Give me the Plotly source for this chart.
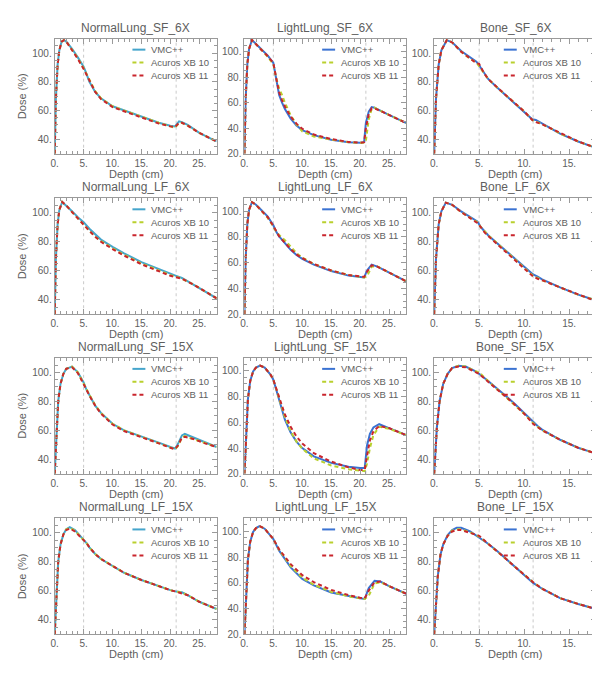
import plotly.graph_objects as go

# ---- data ----
NL_SF_6X_DEPTH = [0, 0.2, 0.5, 0.8, 1.2, 1.6, 2, 3, 4, 5, 5.5, 6, 7, 8, 10, 12, 15, 18, 20, 20.8, 21.5, 22, 23, 25, 27, 28]
NL_SF_6X_VMC = [30, 68, 92, 102, 108, 109, 108, 103, 97, 90.5, 85.5, 80, 73, 68.5, 63, 60, 55.5, 51.5, 49.5, 49, 52.5, 52, 50, 44.5, 40.5, 38.5]
NL_SF_6X_AXB10 = [30, 68, 92, 102, 108, 109, 108, 102.5, 96.5, 89.5, 85.5, 80.5, 73.5, 68.5, 63, 60, 55.5, 51.5, 49, 48, 51.5, 51.5, 49.5, 44.5, 40.5, 38.5]
NL_SF_6X_AXB11 = [30, 68, 92, 102, 108, 109, 108, 102, 96, 89, 85, 80, 73, 68, 62.5, 59.5, 55, 51, 49, 48.5, 51.5, 51.5, 49.5, 44.5, 40.5, 38.5]

LL_SF_6X_DEPTH = [0, 0.2, 0.5, 0.8, 1.3, 2, 3, 4, 5, 5.5, 6, 6.5, 7, 8, 9, 10, 12, 15, 18, 20, 20.7, 21, 21.5, 22, 22.5, 24, 26, 28]
LL_SF_6X_VMC = [20, 62, 90, 102, 109, 106, 101, 97, 91, 78, 66, 60, 55, 47.5, 42, 38.5, 34.5, 31, 29, 28.5, 29, 44, 53, 56.5, 56, 52.5, 48, 44]
LL_SF_6X_AXB10 = [20, 62, 90, 102, 109, 106, 101, 96, 90, 79, 71, 66, 60, 50, 43, 37.5, 33.5, 31, 29, 28.5, 28.5, 30, 47, 55, 56, 52.5, 48, 44]
LL_SF_6X_AXB11 = [20, 62, 90, 102, 109, 106, 101, 96.5, 91, 79, 68, 62, 57, 49, 43.5, 39.5, 35, 31.5, 29.2, 28.6, 29, 40, 51, 55.5, 55.5, 52.5, 48, 44]

BO_SF_6X_DEPTH = [0, 0.2, 0.5, 0.8, 1.4, 2, 3, 4, 4.7, 5, 5.5, 6, 7, 8, 9, 10, 10.9, 11.3, 12, 13, 14, 16, 18]
BO_SF_6X_VMC = [30, 68, 92, 102, 109, 107.5, 101.5, 97, 94, 91.5, 86.5, 82, 76, 70.5, 65, 59.5, 54, 53.5, 51, 47.5, 44, 38.5, 34]
BO_SF_6X_AXB10 = [30, 68, 92, 102, 109, 107.5, 101, 96, 93.5, 91, 86.5, 82, 76, 70.5, 65, 59.5, 53.5, 52.5, 50.5, 47.5, 44, 38.5, 34]
BO_SF_6X_AXB11 = [30, 68, 92, 102, 109, 107.5, 101, 96, 93, 92.5, 86.5, 82, 76, 70.5, 65, 59.5, 53.5, 52, 50.5, 47.5, 44, 38.5, 34]

NL_LF_6X_DEPTH = [0, 0.2, 0.5, 0.8, 1.3, 2, 3, 4, 5, 6, 7, 8, 10, 12, 15, 18, 20, 21, 22, 24, 26, 28]
NL_LF_6X_VMC = [30, 68, 92, 102, 107.5, 105, 101, 97, 93.5, 89, 85, 81.5, 76.5, 72, 66, 61, 58, 56.5, 55, 50.5, 45.5, 41]
NL_LF_6X_AXB10 = [30, 68, 92, 102, 107.5, 105, 100.5, 96, 92, 87.5, 83.5, 80.5, 75.5, 71, 65, 60, 57, 56, 54.5, 50.5, 45.5, 41]
NL_LF_6X_AXB11 = [30, 68, 92, 102, 107.5, 105, 100.5, 96, 92, 87.5, 83.5, 80, 75, 70.5, 64.5, 59.5, 56.5, 55.5, 54.5, 50.5, 45.5, 41]

LL_LF_6X_DEPTH = [0, 0.2, 0.5, 0.8, 1.3, 2, 3, 4, 5, 5.5, 6, 7, 8, 9, 10, 12, 15, 18, 20, 20.7, 21.2, 22, 23, 25, 28]
LL_LF_6X_VMC = [20, 62, 90, 101, 107, 105, 100.5, 96, 89, 84, 80.5, 75, 70, 66, 63, 58.5, 53.5, 50, 48.5, 48.5, 54, 58.5, 57, 52.5, 45.5]
LL_LF_6X_AXB10 = [20, 62, 90, 101, 107, 105, 100, 95, 88, 84, 81.5, 77.5, 72.5, 67.5, 64, 59, 54, 50.5, 49, 48.5, 49.5, 57, 57, 52.5, 45.5]
LL_LF_6X_AXB11 = [20, 62, 90, 101, 107, 105, 100, 95.5, 88.5, 84, 80.5, 75.5, 70.5, 66.5, 63.5, 59, 54, 50.5, 49, 49, 53, 58, 57, 52.5, 45.5]

BO_LF_6X_DEPTH = [0, 0.2, 0.5, 0.8, 1.3, 2, 3, 4, 4.8, 5.2, 5.6, 6, 7, 8, 9, 10, 11, 11.5, 12, 14, 16, 18]
BO_LF_6X_VMC = [30, 68, 92, 101, 107, 105.5, 101, 97, 94, 90, 87, 84.5, 79, 73.5, 68, 62.5, 57.5, 56, 54, 48.5, 43.5, 39.5]
BO_LF_6X_AXB10 = [30, 68, 92, 101, 107, 105.5, 100.5, 96.5, 93.5, 90, 87, 84.5, 79, 73.5, 68, 62.5, 56.5, 55, 53.5, 48.5, 43.5, 39.5]
BO_LF_6X_AXB11 = [30, 68, 92, 101, 107, 105.5, 100.5, 96, 93, 90, 86.5, 84, 78.5, 73, 67.5, 62, 56, 54.5, 53.5, 48.5, 43.5, 39]

NL_SF_15X_DEPTH = [0, 0.3, 0.6, 1, 1.5, 2, 3, 4, 5, 5.5, 6, 7, 8, 10, 12, 15, 18, 20, 20.8, 21.3, 22, 22.5, 24, 26, 28]
NL_SF_15X_VMC = [30, 60, 80, 92, 99, 102.5, 104, 100, 93, 88, 84, 77, 72, 64.5, 60, 56, 51.5, 48.5, 47.5, 50.5, 56.5, 57.5, 55, 51.5, 48.5]
NL_SF_15X_AXB10 = [30, 60, 80, 92, 99, 102.5, 104, 100, 93, 88.5, 84.5, 77.5, 72, 64.5, 60, 55.5, 51, 48, 47, 49, 55, 56, 54, 51, 48.5]
NL_SF_15X_AXB11 = [30, 60, 80, 92, 99, 102.5, 103.5, 99.5, 92.5, 88, 84, 77, 71.5, 64, 59.5, 55.5, 51, 48, 47, 49.5, 55, 55.5, 54, 51, 48.5]

LL_SF_15X_DEPTH = [0, 0.3, 0.6, 1, 1.5, 2, 2.7, 3.5, 4.5, 5, 5.5, 6, 7, 8, 9, 10, 12, 15, 18, 20, 20.8, 21.2, 21.7, 22.3, 23.3, 25, 28]
LL_SF_15X_VMC = [20, 55, 78, 92, 99.5, 102.5, 104, 102.5, 97, 93, 85, 76, 62, 52, 45, 40, 33.5, 28.5, 25.5, 24.5, 24.5, 42, 51, 56, 58.5, 55.5, 50]
LL_SF_15X_AXB10 = [20, 55, 78, 92, 99.5, 102.5, 104, 102.5, 97, 93, 86, 78, 64, 53, 45, 39.5, 32, 26.5, 23.5, 22.5, 22, 28, 40, 50, 56.5, 55, 50]
LL_SF_15X_AXB11 = [20, 55, 78, 92, 99.5, 102.5, 104, 102.5, 97, 93, 86, 79, 66, 56.5, 49, 43.5, 36, 29.5, 25, 23, 23, 34, 46, 53, 57, 55.5, 50]

BO_SF_15X_DEPTH = [0, 0.3, 0.6, 1, 1.5, 2, 2.7, 3.5, 4.5, 5, 6, 7, 8, 9, 10, 11, 11.5, 12, 14, 16, 18]
BO_SF_15X_VMC = [30, 62, 80, 92, 99, 103, 104.5, 104, 101, 99, 94, 89, 83.5, 78, 72, 65.5, 63, 60.5, 53.5, 48, 44]
BO_SF_15X_AXB10 = [30, 62, 80, 92, 99, 103, 104.5, 104, 101, 100, 94, 88.5, 83, 77.5, 71.5, 65, 62.5, 60, 53.5, 48, 44]
BO_SF_15X_AXB11 = [30, 62, 80, 92, 99, 103, 104, 103.5, 100.5, 99, 93.5, 88.5, 83, 77.5, 71.5, 64.5, 62.5, 60, 53.5, 48, 44]

NL_LF_15X_DEPTH = [0, 0.3, 0.6, 1, 1.5, 2, 2.6, 3.5, 4.5, 5, 5.5, 6, 7, 8, 10, 12, 15, 18, 20, 21, 22, 23, 25, 28]
NL_LF_15X_VMC = [30, 60, 80, 92, 99, 102.5, 104, 102, 97.5, 96, 93, 90, 85.5, 82, 77, 72.5, 67.5, 63, 60.5, 59.5, 59, 57, 52.5, 47.5]
NL_LF_15X_AXB10 = [30, 60, 80, 92, 99, 102.5, 103.5, 101.5, 97, 95.5, 93, 90, 85.5, 82, 77, 72.5, 67.5, 63, 60.5, 59.5, 59, 57, 52.5, 47.5]
NL_LF_15X_AXB11 = [30, 60, 80, 92, 99, 102, 103, 101, 97, 95.5, 93, 90, 85.5, 82, 77, 72.5, 67.5, 63, 60.5, 59.5, 58.5, 57, 52.5, 47.5]

LL_LF_15X_DEPTH = [0, 0.3, 0.6, 1, 1.5, 2, 2.6, 3.5, 4.5, 5, 6, 7, 8, 10, 12, 15, 18, 20, 20.8, 21.5, 22.5, 23.5, 25, 28]
LL_LF_15X_VMC = [20, 55, 78, 92, 99.5, 102.5, 104, 102, 97, 94, 85, 78, 72, 63, 58, 52.5, 49.5, 48, 47.5, 56, 61.5, 61, 57.5, 51.5]
LL_LF_15X_AXB10 = [20, 55, 78, 92, 99.5, 102.5, 104, 102, 97, 94, 85.5, 79, 73, 64, 58.5, 53, 49.5, 48, 47.5, 50, 59.5, 60.5, 57.5, 51.5]
LL_LF_15X_AXB11 = [20, 55, 78, 92, 99.5, 102.5, 104, 102, 97, 94, 86, 80, 74.5, 66, 60.5, 54.5, 50.5, 48.5, 48, 54, 60.5, 61, 57.5, 51.5]

BO_LF_15X_DEPTH = [0, 0.2, 0.4, 0.7, 1, 1.5, 2, 2.5, 3, 4, 5, 6, 7, 8, 9, 10, 11, 12, 14, 16, 18]
BO_LF_15X_VMC = [30, 50, 70, 85, 92, 98.5, 102, 103.5, 103.5, 101, 97, 92.5, 87.5, 82, 76.5, 71, 65.5, 61.5, 55, 51, 47.5]
BO_LF_15X_AXB10 = [30, 50, 70, 85, 92, 98, 101.5, 102.5, 102.5, 100.5, 97.5, 92.5, 87.5, 82, 76.5, 71, 66, 61.5, 55, 51, 47.5]
BO_LF_15X_AXB11 = [30, 50, 70, 85, 92, 98, 101, 102, 102, 100, 98, 92.5, 87.5, 82, 76.5, 71, 66, 61.5, 55, 51, 47.5]

TITLES = [
    "NormalLung_SF_6X", "LightLung_SF_6X", "Bone_SF_6X",
    "NormalLung_LF_6X", "LightLung_LF_6X", "Bone_LF_6X",
    "NormalLung_SF_15X", "LightLung_SF_15X", "Bone_SF_15X",
    "NormalLung_LF_15X", "LightLung_LF_15X", "Bone_LF_15X",
]
SERIES_NAMES = ["VMC++", "Acuros XB 10", "Acuros XB 11"]

PANELS = [
    (NL_SF_6X_DEPTH, NL_SF_6X_VMC, NL_SF_6X_AXB10, NL_SF_6X_AXB11),
    (LL_SF_6X_DEPTH, LL_SF_6X_VMC, LL_SF_6X_AXB10, LL_SF_6X_AXB11),
    (BO_SF_6X_DEPTH, BO_SF_6X_VMC, BO_SF_6X_AXB10, BO_SF_6X_AXB11),
    (NL_LF_6X_DEPTH, NL_LF_6X_VMC, NL_LF_6X_AXB10, NL_LF_6X_AXB11),
    (LL_LF_6X_DEPTH, LL_LF_6X_VMC, LL_LF_6X_AXB10, LL_LF_6X_AXB11),
    (BO_LF_6X_DEPTH, BO_LF_6X_VMC, BO_LF_6X_AXB10, BO_LF_6X_AXB11),
    (NL_SF_15X_DEPTH, NL_SF_15X_VMC, NL_SF_15X_AXB10, NL_SF_15X_AXB11),
    (LL_SF_15X_DEPTH, LL_SF_15X_VMC, LL_SF_15X_AXB10, LL_SF_15X_AXB11),
    (BO_SF_15X_DEPTH, BO_SF_15X_VMC, BO_SF_15X_AXB10, BO_SF_15X_AXB11),
    (NL_LF_15X_DEPTH, NL_LF_15X_VMC, NL_LF_15X_AXB10, NL_LF_15X_AXB11),
    (LL_LF_15X_DEPTH, LL_LF_15X_VMC, LL_LF_15X_AXB10, LL_LF_15X_AXB11),
    (BO_LF_15X_DEPTH, BO_LF_15X_VMC, BO_LF_15X_AXB10, BO_LF_15X_AXB11),
]

# ---- layout geometry (pixels) ----
W, H = 600, 674
COLS = [(43, 206), (234, 397), (425, 588)]
ROWS = [(31, 147), (192, 309), (353, 470), (515, 632)]
FONT = "Liberation Sans"
TXT = "#5e5e5e"
FRAME = "#9a9a9a"

VMC_COLORS = ["#45a5cc", "#3a72d2", "#3a72d2"]
AXB10_COLOR = "#b9d02e"
AXB11_COLOR = "#c9252d"


def px_x(v):
    return v / W


def px_y(v):
    return 1 - v / H


fig = go.Figure()
shapes = []
annotations = []

for i, (depth, vmc, axb10, axb11) in enumerate(PANELS):
    r, c = divmod(i, 3)
    n = "" if i == 0 else str(i + 1)
    bone = c == 2
    lung = c == 1
    xmax = 18 if bone else 28
    ymin = 20 if lung else 30

    styles = [
        (vmc, dict(color=VMC_COLORS[c], width=2)),
        (axb10, dict(color=AXB10_COLOR, width=2, dash="4px,3px")),
        (axb11, dict(color=AXB11_COLOR, width=2, dash="4px,3px")),
    ]
    for (vals, line), name in zip(styles, SERIES_NAMES):
        fig.add_trace(go.Scatter(
            x=depth, y=vals, mode="lines", line=line, name=name,
            xaxis="x" + n, yaxis="y" + n, showlegend=False,
        ))

    l, rr = COLS[c]
    t, b = ROWS[r]
    axis_common = dict(
        showline=True, linecolor=FRAME, linewidth=1, mirror="allticks",
        ticks="inside", ticklen=5, tickcolor=FRAME, showgrid=False, zeroline=False,
        ticksuffix=".", tickfont=dict(family=FONT, size=10, color=TXT),
    )
    fig.update_layout(**{
        "xaxis" + n: dict(
            domain=[px_x(l), px_x(rr)], anchor="y" + n, range=[0, xmax],
            tick0=0, dtick=5,
            minor=dict(dtick=1, ticks="inside", ticklen=3, tickcolor=FRAME),
            **axis_common,
        ),
        "yaxis" + n: dict(
            domain=[px_y(b), px_y(t)], anchor="x" + n, range=[ymin, 110],
            tick0=0, dtick=20,
            minor=dict(dtick=5, ticks="inside", ticklen=3, tickcolor=FRAME),
            **axis_common,
        ),
    })

    # slab boundaries
    for xv in ([5, 11] if bone else [5, 21]):
        shapes.append(dict(
            type="line", xref="x" + n, yref="y" + n + " domain",
            x0=xv, x1=xv, y0=0, y1=1,
            line=dict(color="#cacaca", width=1, dash="3px,3px"), layer="below",
        ))

    # panel title and axis titles
    cx = (l + rr) / 2
    annotations.append(dict(
        text=TITLES[i], x=px_x(cx), y=px_y(t - 2), xref="paper", yref="paper",
        xanchor="center", yanchor="bottom", showarrow=False,
        font=dict(family=FONT, size=12, color=TXT),
    ))
    annotations.append(dict(
        text="Depth (cm)", x=px_x(cx), y=px_y(b + 20), xref="paper", yref="paper",
        xanchor="center", yanchor="middle", showarrow=False,
        font=dict(family=FONT, size=11, color=TXT),
    ))
    if c == 0:
        annotations.append(dict(
            text="Dose (%)", x=px_x(10), y=px_y((t + b) / 2), xref="paper", yref="paper",
            xanchor="center", yanchor="middle", textangle=-90, showarrow=False,
            font=dict(family=FONT, size=11, color=TXT),
        ))

    # in-plot legend
    lx0, lx1, tx = (0.43, 0.51, 0.535) if bone else (0.48, 0.56, 0.585)
    for k, ((_, line), name) in enumerate(zip(styles, SERIES_NAMES)):
        ly = 0.905 - k * 0.112
        shapes.append(dict(
            type="line", xref="x" + n + " domain", yref="y" + n + " domain",
            x0=lx0, x1=lx1, y0=ly, y1=ly,
            line=dict(color=line["color"], width=2, dash=line.get("dash", "solid")),
        ))
        annotations.append(dict(
            text=name, x=tx, y=ly, xref="x" + n + " domain", yref="y" + n + " domain",
            xanchor="left", yanchor="middle", showarrow=False,
            font=dict(family=FONT, size=9.5, color=TXT),
        ))

fig.update_layout(
    width=W, height=H,
    margin=dict(l=0, r=0, t=0, b=0),
    paper_bgcolor="white", plot_bgcolor="white",
    showlegend=False, shapes=shapes, annotations=annotations,
)

fig.write_html("out.html")
